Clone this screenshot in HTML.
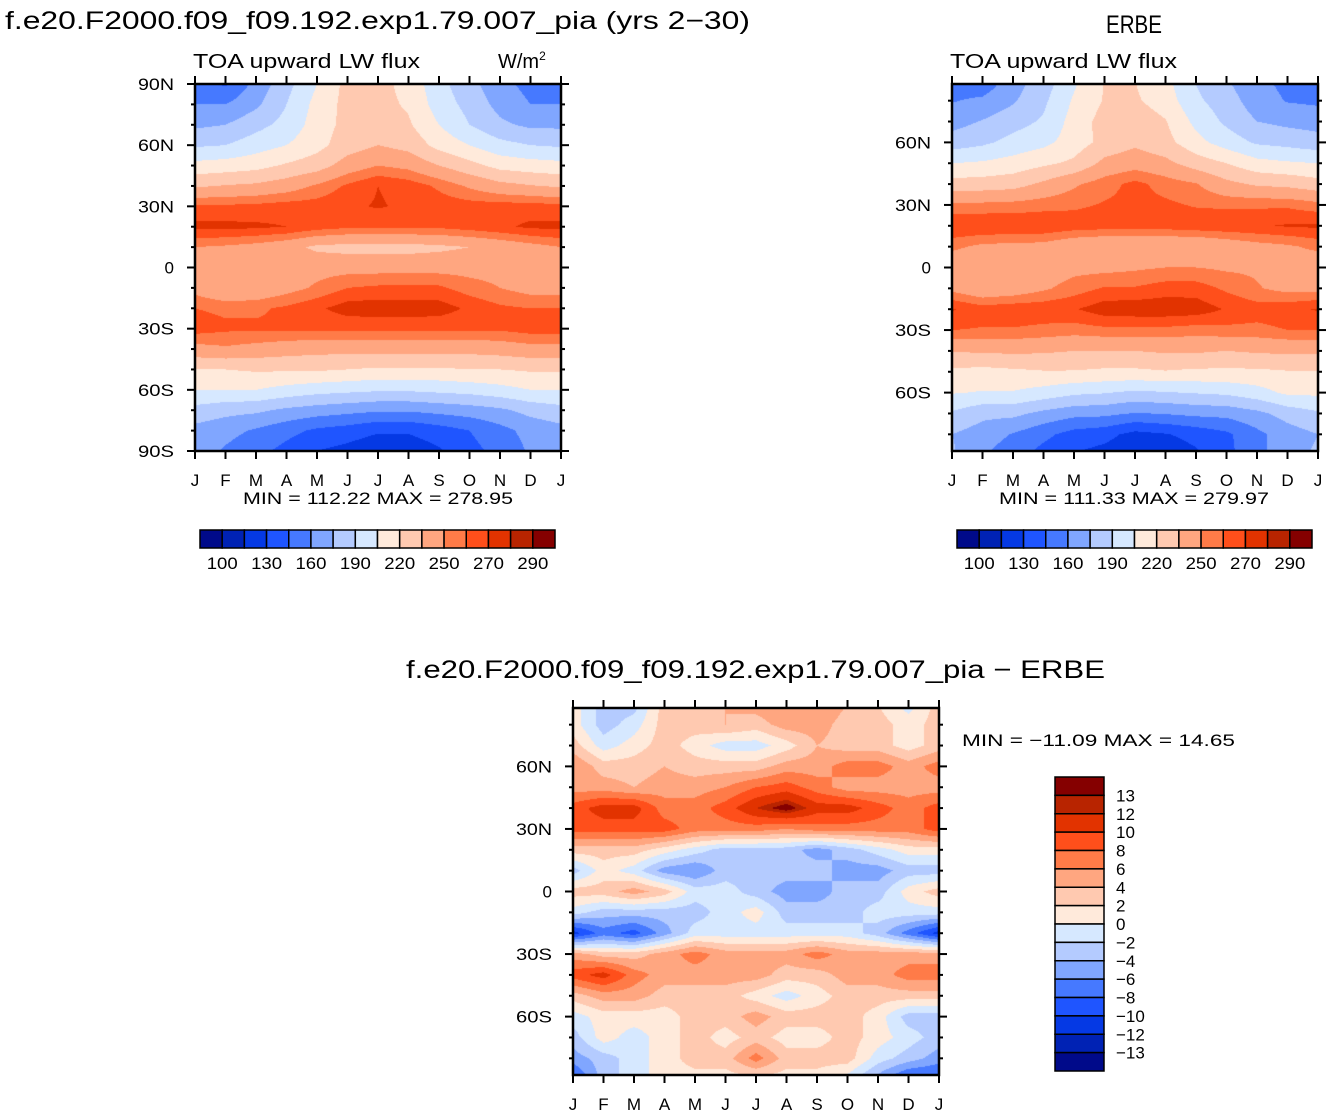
<!DOCTYPE html>
<html><head><meta charset="utf-8">
<style>
body{margin:0;background:#fff;width:1334px;height:1115px;overflow:hidden;position:relative;font-family:"Liberation Sans",sans-serif}
canvas{position:absolute}
svg{position:absolute;left:0;top:0}
text{font-family:"Liberation Sans",sans-serif;fill:#000}
</style></head><body>
<canvas id="c1" style="left:195px;top:84px" width="366" height="367"></canvas>
<canvas id="c2" style="left:952px;top:84px" width="366" height="367"></canvas>
<canvas id="c3" style="left:573px;top:708px" width="366" height="367"></canvas>
<svg id="ov" width="1334" height="1115"></svg>
<script>
const months=["J","F","M","A","M","J","J","A","S","O","N","D","J"];
const latTicks=["90N","60N","30N","0","30S","60S","90S"];
const absLevels=[100,115,130,145,160,175,190,205,220,235,250,260,270,280,290];
const absLabels=["100","130","160","190","220","250","270","290"];
const diffLevels=[-13,-12,-10,-8,-6,-4,-2,0,2,4,6,8,10,12,13];
const diffLabels=["13","12","10","8","6","4","2","0","\u22122","\u22124","\u22126","\u22128","\u221210","\u221212","\u221213"];
const palette=["#000a8a","#0022b4","#0539e4","#1f55ff","#4679ff","#80a6ff","#b4cbff","#d6e8ff","#ffeadb","#ffc9b0","#ffa680","#ff7b48","#ff4f1b","#e23300","#b82400","#850000"];
// rows: 90N..90S every 10 deg; cols: Jan..Jan
const model=[
[150,143,165,185,205,225,225,215,195,180,165,155,150],
[160,160,172,190,210,225,225,218,198,185,170,160,160],
[172,175,185,195,212,225,228,222,205,190,178,172,172],
[188,190,198,205,215,228,235,230,215,205,195,190,188],
[210,212,215,222,228,242,250,246,235,225,215,212,210],
[233,236,238,243,252,262,270,266,258,248,240,236,233],
[262,262,263,265,265,268,271,268,266,265,265,265,263],
[273,273,272,270,265,262,262,262,262,265,268,272,273],
[250,248,245,240,232,230,230,230,232,235,240,245,250],
[242,240,242,245,245,245,245,245,245,245,245,245,242],
[245,235,238,245,252,260,262,262,262,255,250,245,245],
[260,258,258,262,268,275,276,276,275,268,262,260,260],
[265,262,262,262,262,262,262,262,262,262,262,265,265],
[245,248,245,242,240,240,240,240,240,240,242,245,245],
[220,220,222,222,222,220,218,218,218,220,220,222,222],
[205,205,205,200,196,194,192,192,194,196,200,205,205],
[185,180,178,172,168,165,162,162,165,168,172,180,185],
[170,165,158,150,142,138,132,132,138,145,155,165,170],
[168,158,150,140,130,125,118,120,128,140,150,162,168]];
const erbe=[
[151,148,168,182,202,221,220,209,189,176,163,156,149],
[159,163,173,187,207,221,222,213,193,182,167,159,157],
[169,176,184,192,211,226,229,221,201,187,175,171,169],
[182,187,195,201,212,225,232,225,210,198,188,185,181],
[205,207,211,217,223,239,244,239,228,220,210,207,205],
[226,227,229,238,248,256,263,256,251,239,233,231,226],
[253,253,254,256,258,261,263,262,259,258,258,258,254],
[270,270,269,269,266,265,265,265,267,268,269,271,272],
[253,247,246,245,238,235,235,235,235,240,245,248,253],
[239,237,237,242,246,246,248,250,250,248,248,244,239],
[246,238,241,248,255,261,261,265,265,258,251,246,246],
[271,265,267,267,269,276,277,277,276,269,265,267,271],
[260,259,259,257,255,257,257,257,255,257,257,260,260],
[236,237,238,237,235,235,235,237,237,235,237,238,238],
[217,215,217,219,219,217,217,219,217,217,217,219,219],
[206,204,204,199,193,191,187,189,191,193,199,208,208],
[188,179,179,171,165,164,159,161,164,165,171,181,188],
[175,168,159,149,139,135,125,129,135,142,156,168,175],
[177,161,151,139,129,124,117,119,127,141,155,171,177]];
const diff=[
[1,-3,-3,3,3,4,5,6,6,4,2,-1,3],
[1,-3,-1,3,3,4,3,5,5,3,3,1,3],
[3,-1,1,3,1,-1,-1,1,4,3,3,1,3],
[6,3,3,4,3,3,3,5,5,7,7,5,7],
[5,5,4,5,5,6,8,9,7,5,5,5,5],
[9,11,11,7,7,9,12,14,11,11,9,7,9],
[9,9,9,9,7,7,7,6,7,7,7,7,9],
[3,3,3,1,-1,-3,-3,-3,-5,-3,-1,1,1],
[-3,1,-1,-5,-6,-3,-3,-3,-3,-5,-5,-3,-3],
[3,3,5,3,-1,-1,-3,-5,-5,-3,-3,1,3],
[-1,-3,-3,-3,-3,-1,1,-3,-3,-3,-1,-1,-1],
[-11,-7,-9,-5,-1,-1,-1,-1,-1,-1,-3,-7,-11],
[5,3,3,5,7,5,5,5,7,5,5,5,5],
[9,11,7,5,5,5,5,3,3,5,5,7,7],
[3,5,5,3,3,3,1,-1,1,3,3,3,3],
[-1,1,1,1,3,3,5,3,3,3,1,-3,-3],
[-3,1,-1,1,3,1,3,1,1,3,1,-1,-3],
[-5,-3,-1,1,3,3,7,3,3,3,-1,-3,-5],
[-9,-3,-1,1,1,1,1,1,1,-1,-5,-9,-9]];

function hex(h){return [parseInt(h.substr(1,2),16),parseInt(h.substr(3,2),16),parseInt(h.substr(5,2),16)];}
const pal=palette.map(hex);
function cls(v,lv){let i=0;while(i<lv.length&&v>=lv[i])i++;return i;}
function drawField(id,grid,lv,latTop){
  const c=document.getElementById(id),ctx=c.getContext('2d'),W=c.width,H=c.height;
  const img=ctx.createImageData(W,H);
  const nr=grid.length,nc=grid[0].length;
  for(let y=0;y<H;y++){
    const lat=latTop-(y+0.5)/H*2*latTop;
    let r=(90-lat)/10; r=Math.max(0,Math.min(nr-1.0001,r));
    const r0=Math.floor(r),fr=r-r0;
    for(let x=0;x<W;x++){
      let cc=(x+0.5)/W*(nc-1); const c0=Math.min(nc-2,Math.floor(cc)),fc=cc-c0;
      const v=(grid[r0][c0]*(1-fc)+grid[r0][c0+1]*fc)*(1-fr)+(grid[r0+1][c0]*(1-fc)+grid[r0+1][c0+1]*fc)*fr;
      const col=pal[cls(v,lv)],k=(y*W+x)*4;
      img.data[k]=col[0];img.data[k+1]=col[1];img.data[k+2]=col[2];img.data[k+3]=255;
    }
  }
  ctx.putImageData(img,0,0);
}
drawField('c1',model,absLevels,90);
drawField('c2',erbe,absLevels,88);
drawField('c3',diff,diffLevels,88);

const NS="http://www.w3.org/2000/svg",ov=document.getElementById('ov');
function el(t,a,p){const e=document.createElementNS(NS,t);for(const k in a)e.setAttribute(k,a[k]);(p||ov).appendChild(e);return e;}
function txt(s,x,y,size,anchor,name,len){const e=el('text',{x:x,y:y,'font-size':size,'text-anchor':anchor||'start'});e.textContent=s;
if(len){e.setAttribute('textLength',len);e.setAttribute('lengthAdjust','spacingAndGlyphs');}


return e;}
function axes(x0,y0,w,h,latTop,showLat,prefix){
  const g=el('g',{});
  
  
  el('rect',{x:x0,y:y0,width:w,height:h,fill:'none',stroke:'#000','stroke-width':2.5},g);
  for(let i=0;i<13;i++){const x=x0+i*w/12;
    el('line',{x1:x,x2:x,y1:y0,y2:y0-8,stroke:'#000','stroke-width':2},g);
    el('line',{x1:x,x2:x,y1:y0+h,y2:y0+h+8,stroke:'#000','stroke-width':2},g);
    const t=txt(months[i],x,y0+h+35,17,'middle',prefix+'-month-label');g.appendChild(t);}
  const ypos=lat=>y0+h/2-lat/latTop*h/2;
  for(let lat=-90;lat<=90;lat+=10){const y=ypos(lat);if(y<y0-1||y>y0+h+1)continue;
    const major=lat%30===0,L=major?8:4;
    el('line',{x1:x0,x2:x0-L,y1:y,y2:y,stroke:'#000','stroke-width':2},g);
    el('line',{x1:x0+w,x2:x0+w+L,y1:y,y2:y,stroke:'#000','stroke-width':2},g);}
  latTicks.forEach((s,i)=>{const lat=90-i*30;const y=ypos(lat);if(y<y0-1||y>y0+h+1)return;
    const t=txt(s,x0-21,y+6,17,'end',prefix+'-lat-label',s.length>1?36:null);g.appendChild(t);});
}
axes(195,84,366,367,90,true,'model');
axes(952,84,366,367,88,true,'erbe');
axes(573,708,366,367,88,true,'diff');

txt("f.e20.F2000.f09_f09.192.exp1.79.007_pia (yrs 2\u221230)",5,29,25,'start','model-title',745);
txt("ERBE",1134,33,25,'middle','erbe-title',56);
txt("TOA upward LW flux",193,68,20,'start','model-variable-label',227);
const wm=txt("W/m",498,68,20,'start','units-label');
const sup=el('tspan',{dy:-8,'font-size':12},wm);sup.textContent="2";
txt("TOA upward LW flux",950,68,20,'start','erbe-variable-label',227);
txt("MIN = 112.22 MAX = 278.95",243,504,17,'start','model-min-max',270);
txt("MIN = 111.33 MAX = 279.97",999,504,17,'start','erbe-min-max',270);
txt("f.e20.F2000.f09_f09.192.exp1.79.007_pia \u2212 ERBE",406,678,25,'start','diff-title',699);
txt("MIN = \u221211.09 MAX =  14.65",962,746,17,'start','diff-min-max',273);

function hbar(x0,y0,w,h,prefix){
  const g=el('g',{});
  
  
  const bw=w/16;
  for(let i=0;i<16;i++) el('rect',{x:x0+i*bw,y:y0,width:bw,height:h,fill:palette[i],stroke:'#000','stroke-width':1.5},g);
  absLabels.forEach((s,i)=>{const lv=+s;const j=absLevels.indexOf(lv);
    const t=txt(s,x0+(j+1)*bw,y0+h+21,17,'middle',prefix+'-colorbar-label',31);g.appendChild(t);});
}
hbar(200,530,355,18,'model');
hbar(957,530,355,18,'erbe');
(function(){
  const x0=1055,y0=777,w=49,h=294,bh=h/16;
  const g=el('g',{});
  
  
  for(let i=0;i<16;i++) el('rect',{x:x0,y:y0+i*bh,width:w,height:bh,fill:palette[15-i],stroke:'#000','stroke-width':1.5},g);
  diffLabels.forEach((s,i)=>{const t=txt(s,1116,y0+(i+1)*bh+6,17,'start','diff-colorbar-label');g.appendChild(t);});
})();
</script>
</body></html>
